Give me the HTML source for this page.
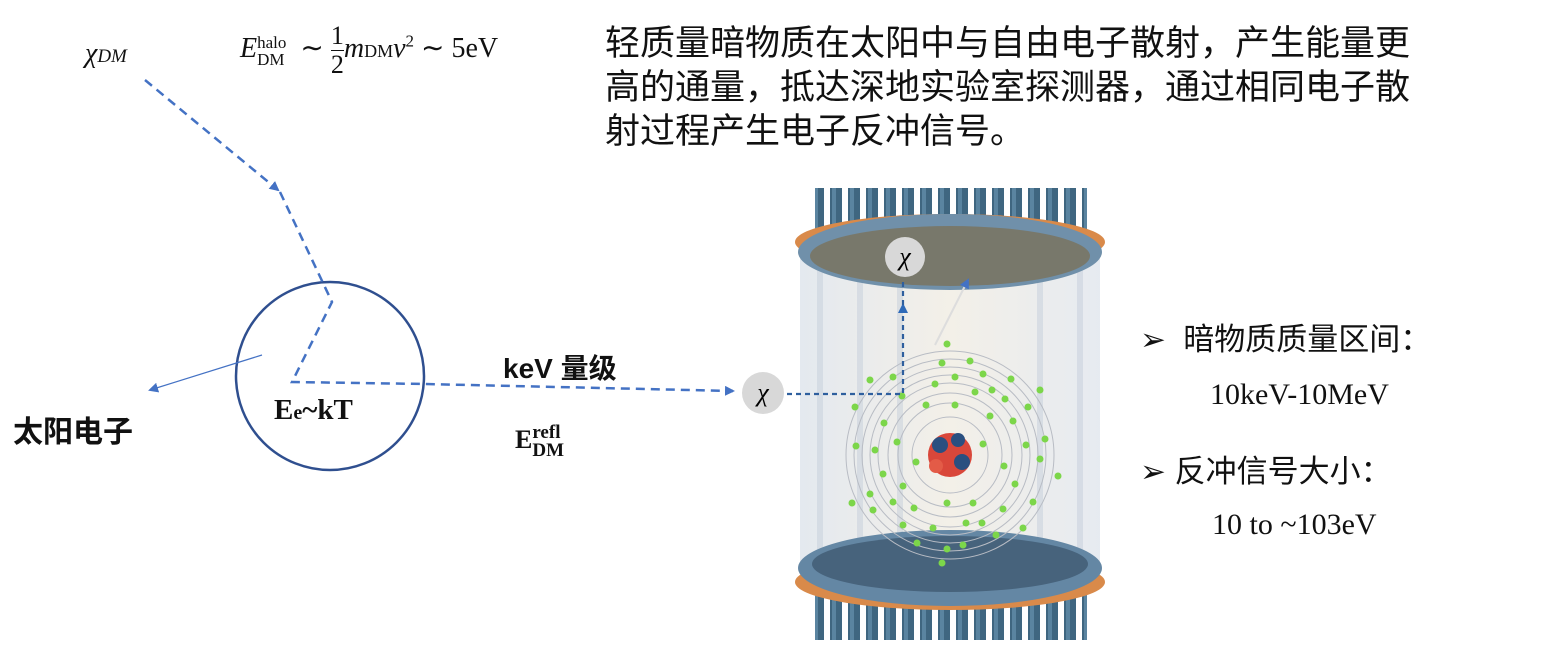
<!DOCTYPE html>
<html><head><meta charset="utf-8"><style>
body{margin:0;background:#fff;width:1546px;height:670px;overflow:hidden;position:relative;font-family:"Liberation Sans","Noto Sans CJK SC",sans-serif}
.t{position:absolute;white-space:nowrap;color:#111}
.serif{font-family:"Liberation Serif","Noto Serif CJK SC",serif}
</style></head><body>
<svg width="1546" height="670" style="position:absolute;left:0;top:0">
<defs>
<marker id="ah" markerWidth="10" markerHeight="10" refX="8" refY="5" orient="auto" markerUnits="userSpaceOnUse"><path d="M0,0 L10,5 L0,10z" fill="#4472c4"/></marker>
<marker id="ah2" markerWidth="10" markerHeight="10" refX="8" refY="5" orient="auto" markerUnits="userSpaceOnUse"><path d="M0,0 L10,5 L0,10z" fill="#2e6ab8"/></marker>
<linearGradient id="cyl" x1="0" x2="1"><stop offset="0" stop-color="#dfe5ec"/><stop offset="0.5" stop-color="#f1ede4"/><stop offset="1" stop-color="#e2e7ee"/></linearGradient>
<pattern id="pmt" width="18" height="60" patternUnits="userSpaceOnUse"><rect x="2" y="0" width="12" height="60" fill="#3f6680"/><rect x="4" y="0" width="4" height="60" fill="#5a84a0"/></pattern>
</defs>
<circle cx="330" cy="376" r="94" fill="none" stroke="#2f4f8f" stroke-width="2.5"/>
<path d="M145,80 L278,190" stroke="#4472c4" stroke-width="2.5" stroke-dasharray="9,6" fill="none" marker-end="url(#ah)"/>
<path d="M280,192 L332,302 L292,382 L425,384 L733,391" stroke="#4472c4" stroke-width="2.5" stroke-dasharray="9,6" fill="none" marker-end="url(#ah)"/>
<line x1="262" y1="355" x2="150" y2="390" stroke="#4472c4" stroke-width="1.2" marker-end="url(#ah)"/>
<rect x="800" y="255" width="300" height="320" fill="url(#cyl)" opacity="0.85"/>
<g stroke="#c5cfdc" stroke-width="6" opacity="0.5">
<line x1="820" y1="270" x2="820" y2="560"/><line x1="860" y1="280" x2="860" y2="560"/><line x1="900" y1="280" x2="900" y2="560"/><line x1="1040" y1="280" x2="1040" y2="560"/><line x1="1080" y1="270" x2="1080" y2="560"/>
</g>
<rect x="815" y="188" width="272" height="45" fill="url(#pmt)"/>
<rect x="815" y="585" width="272" height="55" fill="url(#pmt)"/>
<ellipse cx="950" cy="242" rx="155" ry="28" fill="#d98a4a"/>
<ellipse cx="950" cy="252" rx="152" ry="38" fill="#7090aa"/>
<ellipse cx="950" cy="256" rx="140" ry="30" fill="#7b7056" opacity="0.75"/>
<ellipse cx="950" cy="582" rx="155" ry="28" fill="#d98a4a"/>
<ellipse cx="950" cy="568" rx="152" ry="38" fill="#6487a4"/>
<ellipse cx="950" cy="564" rx="138" ry="28" fill="#405a72" opacity="0.8"/>
<g fill="none" stroke="#b8bcc4" stroke-width="1">
<circle cx="950" cy="455" r="38"/><circle cx="950" cy="455" r="52"/><circle cx="950" cy="455" r="62"/><circle cx="950" cy="455" r="72"/><circle cx="950" cy="455" r="80"/><circle cx="950" cy="455" r="88"/><circle cx="950" cy="455" r="96"/><circle cx="950" cy="455" r="104"/>
</g>
<g fill="#7cd64a">
<circle cx="947" cy="344" r="3.5"/><circle cx="942" cy="363" r="3.5"/><circle cx="970" cy="361" r="3.5"/><circle cx="870" cy="380" r="3.5"/><circle cx="893" cy="377" r="3.5"/><circle cx="955" cy="377" r="3.5"/><circle cx="983" cy="374" r="3.5"/><circle cx="1011" cy="379" r="3.5"/><circle cx="935" cy="384" r="3.5"/><circle cx="992" cy="390" r="3.5"/><circle cx="1040" cy="390" r="3.5"/><circle cx="975" cy="392" r="3.5"/><circle cx="902" cy="396" r="3.5"/><circle cx="855" cy="407" r="3.5"/><circle cx="926" cy="405" r="3.5"/><circle cx="955" cy="405" r="3.5"/><circle cx="1005" cy="399" r="3.5"/><circle cx="1028" cy="407" r="3.5"/><circle cx="990" cy="416" r="3.5"/><circle cx="1013" cy="421" r="3.5"/><circle cx="884" cy="423" r="3.5"/><circle cx="1045" cy="439" r="3.5"/><circle cx="897" cy="442" r="3.5"/><circle cx="856" cy="446" r="3.5"/><circle cx="875" cy="450" r="3.5"/><circle cx="1026" cy="445" r="3.5"/><circle cx="983" cy="444" r="3.5"/><circle cx="916" cy="462" r="3.5"/><circle cx="1040" cy="459" r="3.5"/><circle cx="1004" cy="466" r="3.5"/><circle cx="883" cy="474" r="3.5"/><circle cx="1058" cy="476" r="3.5"/><circle cx="903" cy="486" r="3.5"/><circle cx="1015" cy="484" r="3.5"/><circle cx="870" cy="494" r="3.5"/><circle cx="852" cy="503" r="3.5"/><circle cx="893" cy="502" r="3.5"/><circle cx="947" cy="503" r="3.5"/><circle cx="973" cy="503" r="3.5"/><circle cx="1033" cy="502" r="3.5"/><circle cx="914" cy="508" r="3.5"/><circle cx="873" cy="510" r="3.5"/><circle cx="1003" cy="509" r="3.5"/><circle cx="903" cy="525" r="3.5"/><circle cx="933" cy="528" r="3.5"/><circle cx="966" cy="523" r="3.5"/><circle cx="982" cy="523" r="3.5"/><circle cx="1023" cy="528" r="3.5"/><circle cx="996" cy="535" r="3.5"/><circle cx="917" cy="543" r="3.5"/><circle cx="947" cy="549" r="3.5"/><circle cx="963" cy="545" r="3.5"/><circle cx="942" cy="563" r="3.5"/>
</g>
<g>
<circle cx="950" cy="455" r="22" fill="#d9473a"/>
<circle cx="940" cy="445" r="8" fill="#2a4f80"/><circle cx="962" cy="462" r="8" fill="#2a4f80"/><circle cx="936" cy="466" r="7" fill="#e35b47"/><circle cx="958" cy="440" r="7" fill="#2a4f80"/>
</g>
<line x1="935" y1="345" x2="968" y2="280" stroke="#ddd" stroke-width="2" marker-end="url(#ah)"/>
<path d="M787,394 L903,394 L903,305" stroke="#2e5f9e" stroke-width="2.2" stroke-dasharray="5,4" fill="none" marker-end="url(#ah2)"/>
<line x1="903" y1="305" x2="903" y2="280" stroke="#2e5f9e" stroke-width="2.2" stroke-dasharray="5,4"/>
<circle cx="763" cy="393" r="21" fill="#d8d8d8"/>
<circle cx="905" cy="257" r="20" fill="#d8d8d8"/>
<text x="763" y="401" font-family="Liberation Serif,serif" font-size="26" text-anchor="middle" font-style="italic">χ</text>
<text x="905" y="265" font-family="Liberation Serif,serif" font-size="26" text-anchor="middle" font-style="italic">χ</text>
</svg>
<div class="t serif" style="left:85px;top:38px;font-size:28px;font-style:italic">χ<span style="font-size:19px">DM</span></div>
<div class="t serif" style="left:240px;top:22px;font-size:28px"><i>E</i><span style="display:inline-block;vertical-align:middle;font-size:17px;line-height:17px;text-align:left"><span style="display:block">halo</span><span style="display:block">DM</span></span>&nbsp; ∼ <span style="display:inline-block;vertical-align:middle;text-align:center;line-height:28px;font-size:26px"><span style="display:block;border-bottom:1.5px solid #111">1</span><span style="display:block">2</span></span><i>m</i><span style="font-size:18px">DM</span><i>v</i><sup style="font-size:17px">2</sup> ∼ 5eV</div>
<div class="t" style="left:605px;top:22px;font-size:35px;line-height:44px;color:#111">轻质量暗物质在太阳中与自由电子散射，产生能量更<br>高的通量，抵达深地实验室探测器，通过相同电子散<br>射过程产生电子反冲信号。</div>
<div class="t" style="left:13px;top:407px;font-size:30px;font-weight:bold">太阳电子</div>
<div class="t serif" style="left:274px;top:394px;font-size:29px;font-weight:bold">E<span style="font-size:20px">e</span>~kT</div>
<div class="t" style="left:503px;top:347px;font-size:28px;font-weight:bold">keV 量级</div>
<div class="t serif" style="left:515px;top:424px;font-size:26px;font-weight:bold">E<span style="display:inline-block;vertical-align:middle;font-size:19px;line-height:18px"><span style="display:block">refl</span><span style="display:block">DM</span></span></div>
<div class="t" style="left:1140px;top:314px;font-size:31px">➢&nbsp; 暗物质质量区间：</div>
<div class="t serif" style="left:1210px;top:378px;font-size:30px">10keV-10MeV</div>
<div class="t" style="left:1140px;top:446px;font-size:31px">➢ 反冲信号大小：</div>
<div class="t serif" style="left:1212px;top:508px;font-size:30px">10 to ~103eV</div>
</body></html>
